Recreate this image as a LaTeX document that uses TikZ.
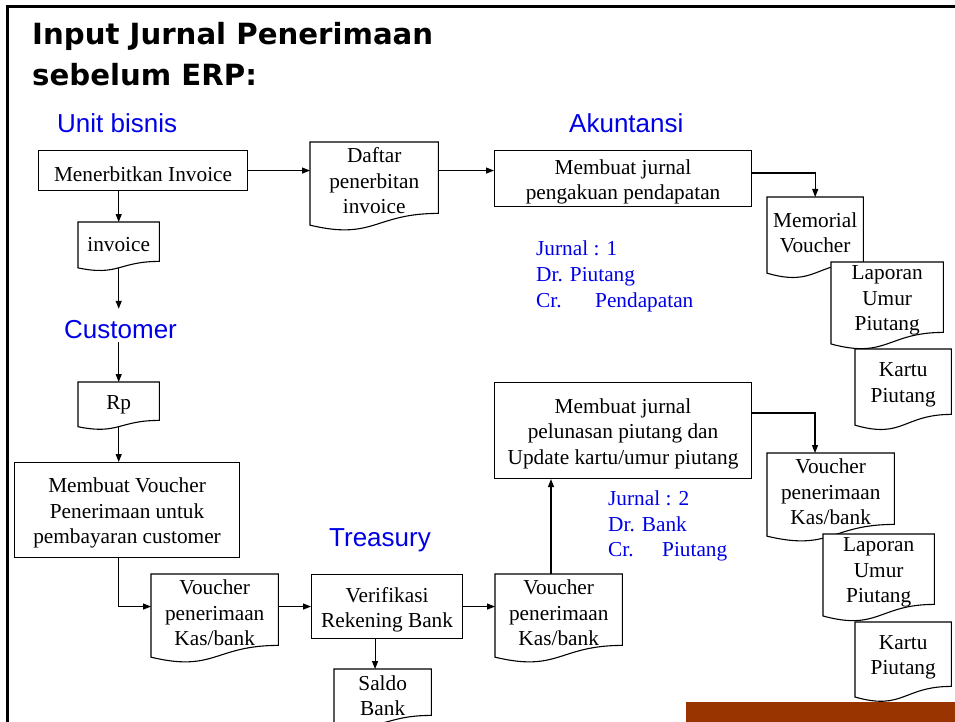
\documentclass[tikz,border=0pt]{standalone}
\usepackage{fontspec}
\setmainfont{Liberation Serif}
\newfontfamily\titlefont{DejaVu Sans}
\newfontfamily\labfont{Liberation Sans}
\usetikzlibrary{arrows.meta,calc}
\definecolor{lblblue}{RGB}{0,0,230}
\definecolor{barbrown}{RGB}{153,51,0}
\newcommand\serifsize{\fontsize{21.3}{25.5}\selectfont}
\newcommand\labsize{\labfont\fontsize{26}{30}\selectfont}
\tikzset{
 boxline/.style={draw=black,line width=1.1pt},
 procframe/.style={boxline, fill=white, inner sep=0pt, anchor=north west},
 docanchor/.style={inner sep=0pt, anchor=north west, draw=none},
 boxtext/.style={inner sep=0pt, align=center, font=\serifsize, yshift=-3.3pt},
 conn/.style={line width=1.1pt, -{Triangle[length=8pt,width=6pt]}},
 lane/.style={font=\labsize, text=lblblue, anchor=base west, inner sep=0pt},
 jtext/.style={font=\serifsize, text=lblblue, anchor=base west, inner sep=0pt},
 titletext/.style={anchor=base west, inner sep=0pt, font=\titlefont\bfseries\fontsize{29.2}{41}\selectfont},
}
\newcommand\procnode[6]{%
 \node[procframe, minimum width=#4pt, minimum height=#5pt] (#1) at (#2,#3) {};
 \node[boxtext] (#1-t) at (#1.center) {#6};
}
\newcommand\docnode[6]{%
 \node[docanchor, minimum width=#4pt, minimum height=#5pt] (#1) at (#2,#3) {};
 \filldraw[boxline, fill=white] (#1.north west) -- (#1.north east) -- (#1.south east)
   .. controls (#1.south) and ($(#1.north)!1.380!(#1.south)$) .. ($(#1.north west)!1.1646!(#1.south west)$) -- cycle;
 \coordinate (#1-b) at ($(#1.north)!1.163!(#1.south)$);
 \node[boxtext] (#1-t) at (#1.center) {#6};
}
\begin{document}
\begin{tikzpicture}[x=1pt,y=-1pt]
\useasboundingbox (0,0) rectangle (955,722);
\fill[white] (0,0) rectangle (955,722);
\draw[line width=3pt] (7,722) -- (7,7) -- (955,7);
\fill[barbrown] (686,702) rectangle (955,722);

\node[titletext] (title1) at (32,45) {Input Jurnal Penerimaan};
\node[titletext] (title2) at (32,86) {sebelum ERP:};

\node[lane] (unit) at (57,133) {Unit bisnis};
\node[lane] (akun) at (569,133) {Akuntansi};
\node[lane, text height=25pt, text depth=0pt, inner ysep=4pt] (cust) at (64,338) {Customer};
\node[lane] (treas) at (329,546) {Treasury};

\procnode{menerbit}{38}{150}{209}{40}{Menerbitkan Invoice}
\docnode{daftar}{310}{142}{128}{71}{Daftar\\penerbitan\\invoice}
\procnode{jurnal1}{494}{150}{257}{56}{Membuat jurnal\\pengakuan pendapatan}
\docnode{memorial}{767}{197}{96}{65}{Memorial\\Voucher}
\docnode{lap1}{831}{262}{112}{70}{Laporan\\Umur\\Piutang}
\docnode{kartu1}{855}{349}{96}{65}{Kartu\\Piutang}
\docnode{invoice}{78}{222}{81}{39}{invoice}
\docnode{rp}{78}{382}{81}{38}{Rp}
\procnode{vbox}{14}{462}{225}{95}{Membuat Voucher\\Penerimaan untuk\\pembayaran customer}
\docnode{v1}{151}{574}{127}{71}{Voucher\\penerimaan\\Kas/bank}
\procnode{verif}{311}{574}{151}{64}{Verifikasi\\Rekening Bank}
\docnode{v2}{495}{574}{127}{71}{Voucher\\penerimaan\\Kas/bank}
\docnode{saldo}{334}{669}{97}{46}{Saldo\\Bank}
\procnode{jurnal2}{494}{382}{257}{96}{Membuat jurnal\\pelunasan piutang dan\\Update kartu/umur piutang}
\docnode{vr}{767}{453}{127}{71}{Voucher\\penerimaan\\Kas/bank}
\docnode{lap2}{823}{534}{111}{70}{Laporan\\Umur\\Piutang}
\docnode{kartu2}{855}{622}{96}{64}{Kartu\\Piutang}

\node[jtext] (j1a) at (536,255) {Jurnal : 1};
\node[jtext] (j1b) at (536,281) {Dr. Piutang};
\node[jtext] (j1c) at (536,307) {\makebox[59pt][l]{Cr.}Pendapatan};
\node[jtext] (j2a) at (608,505) {Jurnal : 2};
\node[jtext] (j2b) at (608,531) {Dr. Bank};
\node[jtext] (j2c) at (608,556) {\makebox[54pt][l]{Cr.}Piutang};

\draw[conn] (menerbit.east) -- (menerbit.east -| daftar.west);
\draw[conn] (daftar.east |- menerbit.east) -- (jurnal1.west |- menerbit.east);
\draw[conn] ($(jurnal1.north east)+(0,23)$) -| (memorial.north);
\draw[conn] (invoice.north |- menerbit.south) -- (invoice.north);
\draw[conn] (invoice-b) -- (invoice-b |- cust.north);
\draw[conn] (invoice-b |- cust.south) -- (rp.north);
\draw[conn] (rp-b) -- (rp-b |- vbox.north);
\draw[conn] (rp-b |- vbox.south) |- (v1.west |- verif.west);
\draw[conn] (v1.east |- verif.west) -- (verif.west);
\draw[conn] (verif.east) -- (verif.east -| v2.west);
\coordinate (v2up) at ($(v2.north west)+(56,0)$);
\draw[conn] (v2up) -- (v2up |- jurnal2.south);
\coordinate (verdown) at ($(verif.south)+(-12,0)$);
\draw[conn] (verdown) -- (verdown |- saldo.north);
\draw[conn] ($(jurnal2.north east)+(0,31)$) -| ($(vr.north west)+(48,0)$);
\end{tikzpicture}
\end{document}
